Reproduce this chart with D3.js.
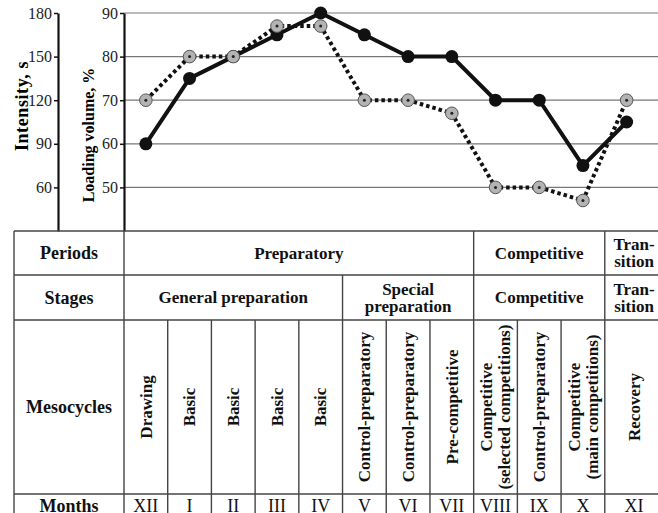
<!DOCTYPE html>
<html>
<head>
<meta charset="utf-8">
<script src="https://cdn.jsdelivr.net/npm/d3@7"></script>
<style>
body{margin:0;background:#fff}
svg{display:block;font-family:"Liberation Serif","Times New Roman",serif}
</style>
</head>
<body>
<div id="chart"></div>
<script>
var months = ["XII","I","II","III","IV","V","VI","VII","VIII","IX","X","XI"];
var intensity = [90,135,150,165,180,165,150,150,120,120,75,105];   // solid line, s
var loading = [70,80,80,87,87,70,70,67,50,50,47,70];               // dotted line, %
var intensityTicks = [60,90,120,150,180];
var loadingTicks = [50,60,70,80,90];
var periods = [["Preparatory",8],["Competitive",3],["Tran-|sition",1]];
var stages = [["General preparation",5],["Special|preparation",3],["Competitive",3],["Tran-|sition",1]];
var mesocycles = ["Drawing","Basic","Basic","Basic","Basic","Control-preparatory","Control-preparatory",
    "Pre-competitive","Competitive|(selected competitions)","Control-preparatory",
    "Competitive|(main competitions)","Recovery"];
var rowLabels = ["Periods","Stages","Mesocycles","Months"];

var width = 658, height = 513;
var plotTop = 13, plotBottom = 231, tableLeft = 14, rightEdge = 680;
var rows = [231, 275, 320, 494, 560];
var lineColor = "#444";

var svg = d3.select("#chart").append("svg")
    .attr("width", width).attr("height", height);

var x = d3.scaleBand().domain(months).range([124, 648.5]);
var bw = x.bandwidth();
var yInt = d3.scaleLinear().domain([30, 180]).range([plotBottom, plotTop]);
var yLoad = d3.scaleLinear().domain([40, 90]).range([plotBottom, plotTop]);

function colLeft(i){ return x(months[i]); }
function colRight(i){ return i == months.length - 1 ? rightEdge : x(months[i]) + bw; }
function colMid(i){ return i == months.length - 1 ? 634 : x(months[i]) + bw / 2; }

// gridlines
svg.append("g").selectAll("line").data(loadingTicks).enter().append("line")
    .attr("x1", 124).attr("x2", width)
    .attr("y1", d => yLoad(d)).attr("y2", d => yLoad(d))
    .attr("stroke", "#777").attr("stroke-width", 1.2);

// axes
var axInt = svg.append("g").attr("transform", "translate(58,0)")
    .call(d3.axisLeft(yInt).tickValues(intensityTicks).tickSize(4).tickSizeOuter(0).tickPadding(2));
var axLoad = svg.append("g").attr("transform", "translate(124,0)")
    .call(d3.axisLeft(yLoad).tickValues(loadingTicks).tickSize(4).tickSizeOuter(0).tickPadding(2));
[axInt, axLoad].forEach(function(a){
    a.select(".domain").attr("stroke", "#111").attr("stroke-width", 2.2);
    a.selectAll(".tick line").attr("stroke", "#111").attr("stroke-width", 1.5);
    a.selectAll(".tick text").attr("font-family", "Liberation Serif").attr("font-size", 16)
        .attr("fill", "#222");
});

svg.append("text").attr("transform", "translate(28,106) rotate(-90)")
    .attr("text-anchor", "middle").attr("font-weight", "bold").attr("font-size", 18)
    .attr("letter-spacing", 0.6)
    .text("Intensity, s");
svg.append("text").attr("transform", "translate(94,135) rotate(-90)")
    .attr("text-anchor", "middle").attr("font-weight", "bold").attr("font-size", 16)
    .text("Loading volume, %");

// lines
var lineInt = d3.line().x((d, i) => x(months[i]) + bw / 2).y(d => yInt(d));
var lineLoad = d3.line().x((d, i) => x(months[i]) + bw / 2).y(d => yLoad(d));

svg.append("path").datum(intensity).attr("d", lineInt)
    .attr("fill", "none").attr("stroke", "#111").attr("stroke-width", 4);
svg.append("path").datum(loading).attr("d", lineLoad)
    .attr("fill", "none").attr("stroke", "#111").attr("stroke-width", 4)
    .attr("stroke-dasharray", "3.5,3");

svg.append("g").selectAll("circle").data(intensity).enter().append("circle")
    .attr("cx", (d, i) => x(months[i]) + bw / 2).attr("cy", d => yInt(d))
    .attr("r", 6.5).attr("fill", "#111");

var gm = svg.append("g").selectAll("g").data(loading).enter().append("g")
    .attr("transform", (d, i) => "translate(" + (x(months[i]) + bw / 2) + "," + yLoad(d) + ")");
gm.append("circle").attr("r", 6.3).attr("fill", "#b3b3b3").attr("stroke", "#555").attr("stroke-width", 1);
gm.append("circle").attr("r", 1.5).attr("fill", "#222");

// table
var table = svg.append("g");
function hline(y){
    table.append("line").attr("x1", tableLeft).attr("x2", rightEdge).attr("y1", y).attr("y2", y)
        .attr("stroke", lineColor).attr("stroke-width", 1.4);
}
function vline(xx, y1, y2){
    table.append("line").attr("x1", xx).attr("x2", xx).attr("y1", y1).attr("y2", y2)
        .attr("stroke", lineColor).attr("stroke-width", 1.4);
}
function multiText(g, label, cx, cy, opts){
    var parts = label.split("|");
    var lh = opts.lh || 18;
    var t = g.append("text").attr("text-anchor", "middle")
        .attr("font-size", opts.size).attr("font-weight", opts.weight || "bold")
        .attr("fill", "#111");
    if (opts.rotate) t.attr("transform", "translate(" + cx + "," + cy + ") rotate(-90)");
    else t.attr("transform", "translate(" + cx + "," + cy + ")");
    parts.forEach(function(p, k){
        t.append("tspan").attr("x", 0)
            .attr("y", (k - (parts.length - 1) / 2) * lh + opts.size * 0.34)
            .text(p);
    });
}

rows.slice(0, 4).forEach(hline);
vline(tableLeft, rows[0], height);
vline(124, rows[0], height);

rowLabels.forEach(function(l, r){
    var cy = r == 3 ? 506 : (rows[r] + rows[r + 1]) / 2;
    multiText(table, l, 69, cy, {size: 18});
});

function spanRow(list, r){
    var start = 0;
    list.forEach(function(s){
        var end = start + s[1] - 1;
        if (end < months.length - 1) vline(colRight(end), rows[r], rows[r + 1]);
        var cx = end == months.length - 1 && start == end ? colMid(end) : (colLeft(start) + colRight(end)) / 2;
        multiText(table, s[0], cx, (rows[r] + rows[r + 1]) / 2, {size: 17, lh: 17});
        start = end + 1;
    });
}
spanRow(periods, 0);
spanRow(stages, 1);

months.forEach(function(m, i){
    if (i < months.length - 1) vline(colRight(i), rows[2], height);
    multiText(table, mesocycles[i], colMid(i), 407, {size: 17, rotate: true, lh: 18});
    multiText(table, m, colMid(i), 506, {size: 18, weight: "normal"});
});
</script>
</body>
</html>
